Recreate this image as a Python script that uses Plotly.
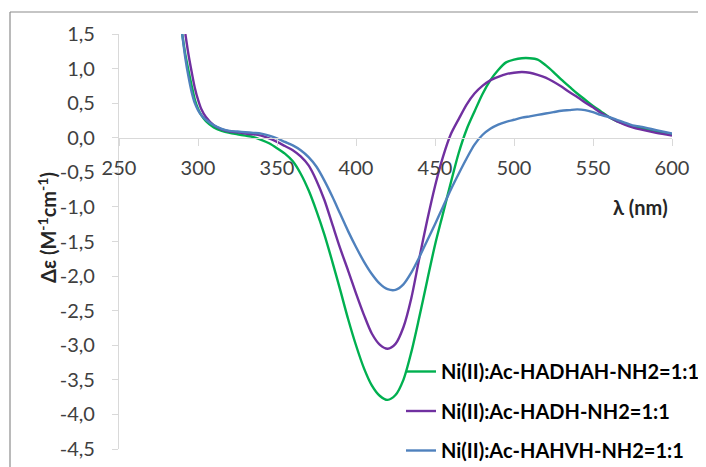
import plotly.graph_objects as go

# ---------------- data ----------------
wl_green = [290, 292, 294, 296, 298, 300, 302, 305, 310, 315, 320, 325, 330, 335, 340, 345, 350, 355,
            360, 365, 370, 375, 380, 385, 390, 395, 400, 405, 410, 415, 420, 425, 430, 435, 440, 445,
            450, 455, 460, 465, 470, 475, 480, 485, 490, 495, 500, 505, 510, 515, 520, 525, 530, 535,
            540, 545, 550, 555, 560, 565, 570, 575, 580, 590, 600]
de_green = [1.5, 1.2, 0.97, 0.75, 0.55, 0.42, 0.33, 0.24, 0.15, 0.10, 0.07, 0.05, 0.03, 0.01, -0.03,
            -0.08, -0.15, -0.23, -0.34, -0.52, -0.76, -1.06, -1.40, -1.79, -2.20, -2.62, -3.00, -3.33,
            -3.58, -3.73, -3.79, -3.72, -3.50, -3.10, -2.60, -2.07, -1.55, -1.10, -0.65, -0.22, 0.12,
            0.38, 0.63, 0.83, 0.98, 1.09, 1.13, 1.15, 1.15, 1.13, 1.05, 0.95, 0.84, 0.74, 0.64, 0.55,
            0.46, 0.38, 0.30, 0.24, 0.20, 0.16, 0.14, 0.09, 0.05]

wl_purple = [292, 294, 296, 298, 300, 302, 305, 310, 315, 320, 325, 330, 335, 340, 345, 350, 355, 360,
             365, 370, 375, 380, 385, 390, 395, 400, 405, 410, 415, 420, 425, 430, 435, 440, 445, 450,
             455, 460, 465, 470, 475, 480, 485, 490, 495, 500, 505, 510, 515, 520, 525, 530, 535, 540,
             545, 550, 555, 560, 565, 570, 575, 580, 590, 600]
de_purple = [1.5, 1.2, 0.95, 0.72, 0.55, 0.42, 0.30, 0.18, 0.12, 0.09, 0.08, 0.06, 0.05, 0.03, -0.01,
             -0.06, -0.12, -0.18, -0.27, -0.40, -0.62, -0.90, -1.25, -1.60, -1.92, -2.25, -2.56, -2.83,
             -2.99, -3.05, -2.98, -2.74, -2.32, -1.75, -1.20, -0.70, -0.28, 0.05, 0.27, 0.48, 0.64,
             0.75, 0.83, 0.88, 0.92, 0.94, 0.95, 0.94, 0.91, 0.87, 0.81, 0.74, 0.66, 0.59, 0.51, 0.44,
             0.36, 0.30, 0.24, 0.19, 0.15, 0.12, 0.07, 0.03]

wl_blue = [290, 292, 294, 296, 298, 300, 302, 305, 310, 315, 320, 325, 330, 335, 340, 345, 350, 355,
           360, 365, 370, 375, 380, 385, 390, 395, 400, 405, 410, 415, 420, 425, 430, 435, 440,
           445, 450, 455, 460, 465, 470, 475, 480, 485, 490, 495, 500, 505, 510, 515, 520, 525, 530,
           535, 540, 545, 550, 555, 560, 565, 570, 575, 580, 590, 600]
de_blue = [1.5, 1.15, 0.88, 0.66, 0.50, 0.40, 0.33, 0.26, 0.18, 0.13, 0.10, 0.09, 0.08, 0.07, 0.06,
           0.03, -0.01, -0.06, -0.11, -0.18, -0.28, -0.42, -0.62, -0.85, -1.10, -1.35, -1.58, -1.79,
           -1.97, -2.11, -2.19, -2.20, -2.12, -1.95, -1.73, -1.49, -1.25, -1.00, -0.75, -0.52,
           -0.30, -0.10, 0.04, 0.13, 0.19, 0.23, 0.26, 0.29, 0.31, 0.33, 0.35, 0.37, 0.39, 0.40, 0.41,
           0.40, 0.37, 0.33, 0.30, 0.26, 0.22, 0.18, 0.16, 0.11, 0.06]

series_names = ["Ni(II):Ac-HADHAH-NH2=1:1", "Ni(II):Ac-HADH-NH2=1:1", "Ni(II):Ac-HAHVH-NH2=1:1"]

x_tick_vals = [250, 300, 350, 400, 450, 500, 550, 600]
x_tick_text = ["250", "300", "350", "400", "450", "500", "550", "600"]
y_tick_vals = [1.5, 1.0, 0.5, 0.0, -0.5, -1.0, -1.5, -2.0, -2.5, -3.0, -3.5, -4.0, -4.5]
y_tick_text = ["1,5", "1,0", "0,5", "0,0", "-0,5", "-1,0", "-1,5", "-2,0", "-2,5", "-3,0", "-3,5",
               "-4,0", "-4,5"]

x_title = "λ (nm)"
y_title = "Δε (M<sup>-1</sup>cm<sup>-1</sup>)"

# ---------------- styling ----------------
colors = ["#00B050", "#7030A0", "#4F81BD"]
FONT = "Lato"
OFF = 8                      # default page margin of the html body
W, H = 706 - OFF, 467 - OFF
# plot area in screen pixels: x 119..672, y 34..449
ML, MT = 119 - OFF, 34 - OFF
MR, MB = W - (672 - OFF), H - (449 - OFF)
PW, PH = W - ML - MR, H - MT - MB


def px_x(px):  # screen pixel -> paper fraction
    return (px - OFF - ML) / PW


def px_y(py):
    return (H - MB - (py - OFF)) / PH


fig = go.Figure()
for i, (xs, ys) in enumerate([(wl_green, de_green), (wl_purple, de_purple), (wl_blue, de_blue)]):
    fig.add_trace(go.Scatter(
        x=xs, y=ys, mode="lines", name=series_names[i], legendgroup=str(i),
        line=dict(color=colors[i], width=2.4, shape="spline", smoothing=0.8),
    ))

axis_col = "#D9D9D9"
tick_font = dict(family=FONT, size=20, color="#404040")
border = dict(color="#8C8C8C", width=1.2)

fig.update_layout(
    width=W, height=H,
    margin=dict(l=ML, r=MR, t=MT, b=MB, pad=0, autoexpand=False),
    paper_bgcolor="white", plot_bgcolor="white",
    showlegend=True,
    legend=dict(
        x=px_x(401), y=px_y(352), xanchor="left", yanchor="top",
        bgcolor="rgba(0,0,0,0)", borderwidth=0,
        font=dict(family=FONT, size=20, color="#000000", weight="bold"),
        tracegroupgap=10.5, itemwidth=30,
    ),
    xaxis=dict(
        range=[250, 600], tickvals=x_tick_vals, ticktext=x_tick_text,
        anchor="free", position=0.75, automargin=False,
        showline=True, linecolor=axis_col, linewidth=1.2,
        ticks="outside", ticklen=7, tickcolor=axis_col, tickwidth=1.2,
        showgrid=False, zeroline=False, tickfont=tick_font, ticklabelstandoff=5,
    ),
    yaxis=dict(
        range=[-4.5, 1.5], tickvals=y_tick_vals, ticktext=y_tick_text, automargin=False,
        showline=True, linecolor=axis_col, linewidth=1.2,
        ticks="outside", ticklen=6, tickcolor=axis_col, tickwidth=1.2,
        showgrid=False, zeroline=False, tickfont=tick_font, ticklabelstandoff=13,
    ),
    annotations=[
        dict(text=x_title, xref="paper", yref="paper", x=px_x(640), y=px_y(207),
             xanchor="center", yanchor="middle",
             showarrow=False, font=dict(family=FONT, size=20, color="#262626", weight="bold")),
        dict(text=y_title, xref="paper", yref="paper", x=px_x(47), y=px_y(228),
             xanchor="center", yanchor="middle",
             textangle=-90, showarrow=False,
             font=dict(family=FONT, size=20, color="#262626", weight="bold")),
    ],
    shapes=[
        dict(type="line", xref="paper", yref="paper",
             x0=px_x(10), x1=px_x(720), y0=px_y(12), y1=px_y(12), line=border, layer="below"),
        dict(type="line", xref="paper", yref="paper",
             x0=px_x(10), x1=px_x(10), y0=px_y(12), y1=px_y(480), line=border, layer="below"),
    ],
)

fig.write_html("out.html", config={"displayModeBar": False})
